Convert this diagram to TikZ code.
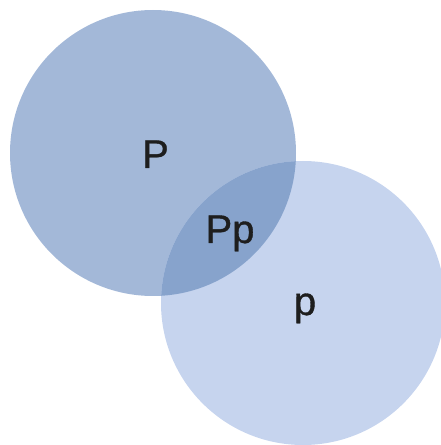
\documentclass[tikz,border=0pt]{standalone}
\usepackage{fontspec}
\setmainfont{Liberation Sans}
\newfontfamily\lblfont[FakeBold=0.9]{Liberation Sans}
\definecolor{cA}{HTML}{A3B8D8}
\definecolor{cB}{HTML}{C6D4EE}
\definecolor{cAB}{HTML}{87A3CC}
\definecolor{txt}{HTML}{1E1E1E}
\begin{document}
\begin{tikzpicture}[x=1pt,y=1pt,
  lbl/.style={anchor=base,text=txt,inner sep=0pt,font=\lblfont\fontsize{40}{48}\selectfont}]
\useasboundingbox (0,0) rectangle (441,445);
\fill[cA] (153,292) circle[radius=143];
\fill[cB] (303,142) circle[radius=142];
\begin{scope}
  \clip (153,292) circle[radius=143];
  \fill[cAB] (303,142) circle[radius=142];
\end{scope}
\node[lbl] (P) at (155.5,277) {P};
\node[lbl] (Pp) at (230,202) {Pp};
\node[lbl] (p) at (305,130) {p};
\end{tikzpicture}
\end{document}
